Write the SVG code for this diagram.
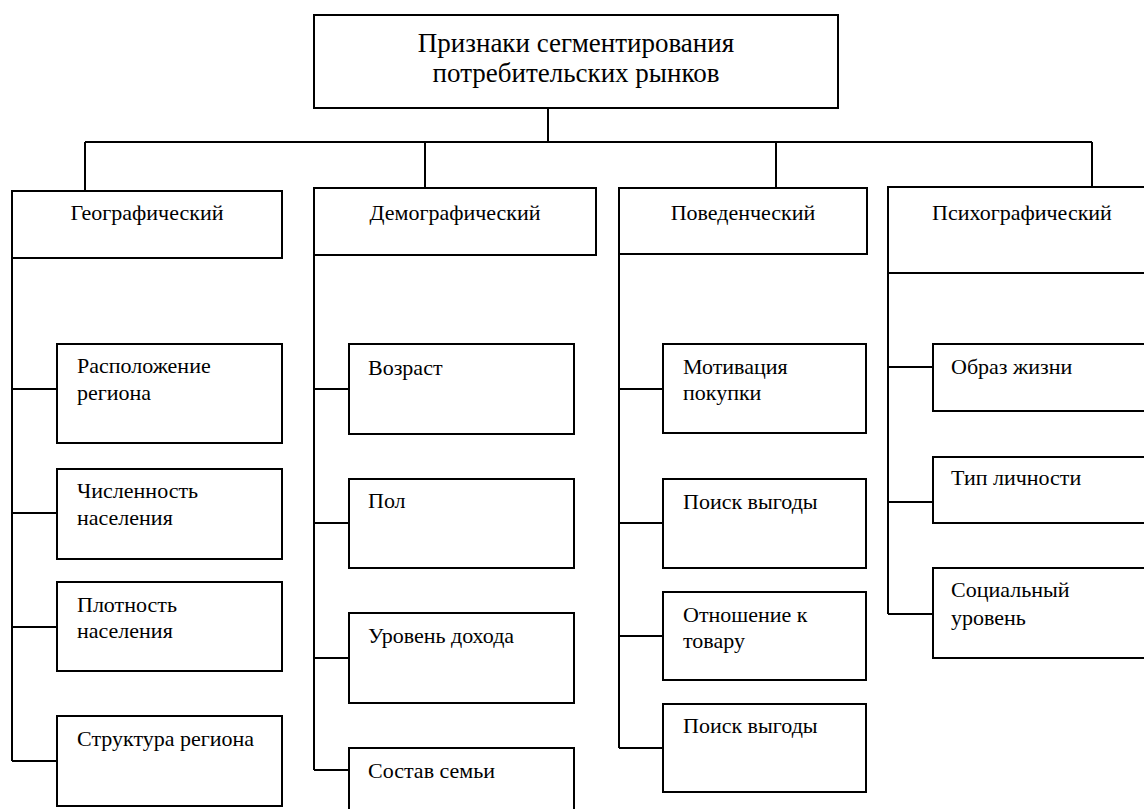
<svg xmlns="http://www.w3.org/2000/svg" width="1144" height="809" viewBox="0 0 1144 809">
<style>
rect{fill:#fff;stroke:#000;stroke-width:2}
.c line,.c polyline{stroke:#000;stroke-width:2;fill:none}
text{font-family:"Liberation Serif","Times New Roman",serif;fill:#000}
.t{font-size:27px;text-anchor:middle}
.h{font-size:22px;text-anchor:middle}
.s{font-size:22px}
</style>
<rect width="1144" height="809" style="stroke:none"/>
<g class="c" id="connectors">
<line x1="548" y1="108" x2="548" y2="142"/>
<line x1="85" y1="142" x2="1092" y2="142"/>
<line x1="85" y1="142" x2="85" y2="191"/>
<line x1="425" y1="142" x2="425" y2="188"/>
<line x1="776" y1="142" x2="776" y2="188"/>
<line x1="1092" y1="142" x2="1092" y2="187"/>
<line x1="12" y1="257" x2="12" y2="761"/>
<line x1="12" y1="389" x2="57" y2="389"/>
<line x1="12" y1="513" x2="57" y2="513"/>
<line x1="12" y1="627" x2="57" y2="627"/>
<line x1="12" y1="761" x2="57" y2="761"/>
<line x1="314" y1="255" x2="314" y2="770"/>
<line x1="314" y1="389" x2="349" y2="389"/>
<line x1="314" y1="523" x2="349" y2="523"/>
<line x1="314" y1="658" x2="349" y2="658"/>
<line x1="314" y1="770" x2="349" y2="770"/>
<line x1="619" y1="254" x2="619" y2="748"/>
<line x1="619" y1="389" x2="663" y2="389"/>
<line x1="619" y1="523" x2="663" y2="523"/>
<line x1="619" y1="636" x2="663" y2="636"/>
<line x1="619" y1="748" x2="663" y2="748"/>
<line x1="888" y1="273" x2="888" y2="614"/>
<line x1="888" y1="367" x2="933" y2="367"/>
<line x1="888" y1="502" x2="933" y2="502"/>
<line x1="888" y1="614" x2="933" y2="614"/>
</g>
<g id="root">
<rect x="314" y="15" width="524" height="93"/>
<text class="t" x="576" y="52">Признаки сегментирования</text>
<text class="t" x="576" y="82">потребительских рынков</text>
</g>
<g id="geo">
<rect x="12" y="191" width="270" height="67"/>
<text class="h" x="147" y="220">Географический</text>
</g>
<g id="demo">
<rect x="314" y="188" width="282" height="67"/>
<text class="h" x="455" y="220">Демографический</text>
</g>
<g id="behav">
<rect x="619" y="188" width="248" height="66"/>
<text class="h" x="743" y="220">Поведенческий</text>
</g>
<g id="psych">
<rect x="888" y="187" width="270" height="86"/>
<text class="h" x="1022" y="220">Психографический</text>
</g>
<g id="geo1"><rect x="57" y="344" width="225" height="99"/>
<text class="s" x="77" y="373">Расположение</text><text class="s" x="77" y="400">региона</text></g>
<g id="geo2"><rect x="57" y="469" width="225" height="90"/>
<text class="s" x="77" y="498">Численность</text><text class="s" x="77" y="525">населения</text></g>
<g id="geo3"><rect x="57" y="582" width="225" height="89"/>
<text class="s" x="77" y="612">Плотность</text><text class="s" x="77" y="638">населения</text></g>
<g id="geo4"><rect x="57" y="716" width="225" height="90"/>
<text class="s" x="77" y="746">Структура региона</text></g>
<g id="demo1"><rect x="349" y="344" width="225" height="90"/>
<text class="s" x="368" y="375">Возраст</text></g>
<g id="demo2"><rect x="349" y="479" width="225" height="89"/>
<text class="s" x="368" y="508">Пол</text></g>
<g id="demo3"><rect x="349" y="613" width="225" height="90"/>
<text class="s" x="368" y="643">Уровень дохода</text></g>
<g id="demo4"><rect x="349" y="748" width="225" height="80"/>
<text class="s" x="368" y="778">Состав семьи</text></g>
<g id="beh1"><rect x="663" y="344" width="203" height="89"/>
<text class="s" x="683" y="374">Мотивация</text><text class="s" x="683" y="400">покупки</text></g>
<g id="beh2"><rect x="663" y="479" width="203" height="89"/>
<text class="s" x="683" y="509">Поиск выгоды</text></g>
<g id="beh3"><rect x="663" y="592" width="203" height="88"/>
<text class="s" x="683" y="622">Отношение к</text><text class="s" x="683" y="648">товару</text></g>
<g id="beh4"><rect x="663" y="704" width="203" height="88"/>
<text class="s" x="683" y="733">Поиск выгоды</text></g>
<g id="psy1"><rect x="933" y="344" width="225" height="67"/>
<text class="s" x="951" y="374">Образ жизни</text></g>
<g id="psy2"><rect x="933" y="457" width="225" height="66"/>
<text class="s" x="951" y="485">Тип личности</text></g>
<g id="psy3"><rect x="933" y="568" width="225" height="90"/>
<text class="s" x="951" y="597">Социальный</text><text class="s" x="951" y="625">уровень</text></g>
</svg>
